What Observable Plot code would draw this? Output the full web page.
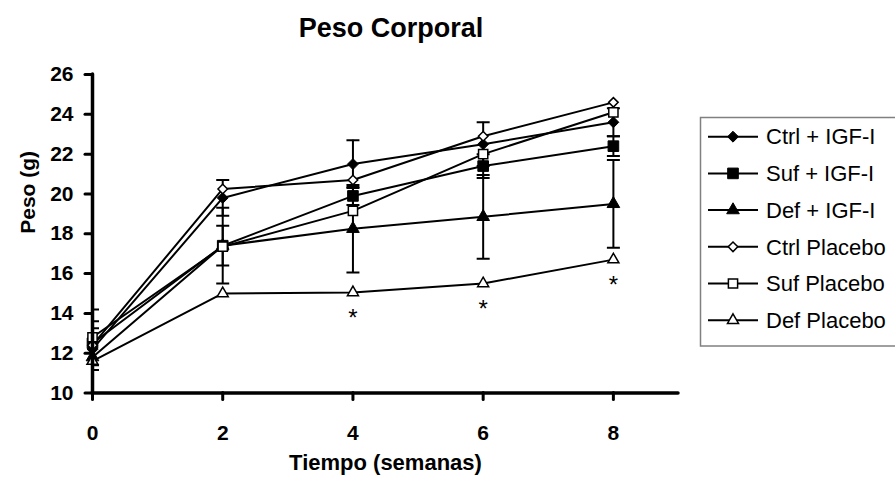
<!DOCTYPE html>
<html><head><meta charset="utf-8">
<script src="https://cdn.jsdelivr.net/npm/d3@7"></script>
<script src="https://cdn.jsdelivr.net/npm/@observablehq/plot@0.6"></script>
<style>
body{margin:0;background:#fff;font-family:"Liberation Sans",Arial,sans-serif;color:#000;}
#wrap{position:relative;width:895px;height:481px;overflow:hidden;background:#fff;}
#wrap > svg{position:absolute;left:0;top:0;}
#title{position:absolute;left:0;width:782px;top:15px;text-align:center;font-weight:bold;font-size:27px;line-height:1;}
</style></head><body>
<div id="wrap"><div id="title">Peso Corporal</div></div>
<script>
// ---- data ----
const weeks = [0, 2, 4, 6, 8];
const yTicks = [10, 12, 14, 16, 18, 20, 22, 24, 26];
const xTicks = [0, 2, 4, 6, 8];
const seriesNames = ["Ctrl + IGF-I", "Suf + IGF-I", "Def + IGF-I", "Ctrl Placebo", "Suf Placebo", "Def Placebo"];
const ctrlIGF     = [12.2, 19.8, 21.5, 22.5, 23.6];
const sufIGF      = [12.5, 17.4, 19.9, 21.4, 22.4];
const defIGF      = [11.8, 17.4, 18.25, 18.85, 19.5];
const ctrlPlacebo = [12.4, 20.25, 20.7, 22.9, 24.6];
const sufPlacebo  = [12.8, 17.35, 19.15, 22.0, 24.1];
const defPlacebo  = [11.6, 15.0, 15.05, 15.5, 16.7];
// error bars (± SD) for IGF-I groups
const ctrlIGFErr = [1.05, 0.9, 1.2, 1.1, 0.7];
const sufIGFErr  = [1.1, 1.0, 0.45, 0.6, 0.5];
const defIGFErr  = [2.4, 1.9, 2.2, 2.1, 2.2];
// significance marks (asterisks) on Def Placebo
const starWeeks = [4, 6, 8];

// ---- styles ----
const styleOf = {
  "Ctrl + IGF-I": {symbol: "diamond2", fill: "#000", r: 4.9, sw: 1},
  "Suf + IGF-I":  {symbol: "square",   fill: "#000", r: 6.0, sw: 1},
  "Def + IGF-I":  {symbol: "triangle", fill: "#000", r: 4.7, sw: 1},
  "Ctrl Placebo": {symbol: "diamond2", fill: "#fff", r: 4.3, sw: 1.5},
  "Suf Placebo":  {symbol: "square",   fill: "#fff", r: 5.2, sw: 1.5},
  "Def Placebo":  {symbol: "triangle", fill: "#fff", r: 4.1, sw: 1.5}
};

const values = [ctrlIGF, sufIGF, defIGF, ctrlPlacebo, sufPlacebo, defPlacebo];
const rows = seriesNames.flatMap((s, i) => weeks.map((w, j) => ({series: s, week: w, value: values[i][j]})));
const errs = [[ctrlIGF, ctrlIGFErr], [sufIGF, sufIGFErr], [defIGF, defIGFErr]];
const errRows = errs.flatMap(([v, e]) => weeks.map((w, j) => ({week: w, lo: v[j] - e[j], hi: v[j] + e[j]})));
const capRows = errRows.flatMap(d => [{week: d.week, v: d.lo}, {week: d.week, v: d.hi}]);
const starRows = starWeeks.map(w => ({week: w, value: defPlacebo[weeks.indexOf(w)]}));

const capSymbol = {draw(ctx, size) { const w = Math.sqrt(size / Math.PI); ctx.moveTo(-w, 0); ctx.lineTo(w, 0); }};

const font = '"Liberation Sans", Arial, sans-serif';

const chart = Plot.plot({
  width: 895, height: 481,
  marginLeft: 92, marginRight: 217, marginTop: 74, marginBottom: 88.5,
  x: {domain: [0, 9], axis: null},
  y: {domain: [10, 26], axis: null},
  style: {fontFamily: font, color: "#000", background: "transparent", overflow: "visible"},
  marks: [
    Plot.line(rows, {x: "week", y: "value", z: "series", stroke: "#000", strokeWidth: 2}),
    Plot.ruleX(errRows, {x: "week", y1: "lo", y2: "hi", stroke: "#000", strokeWidth: 2, clip: true}),
    Plot.dot(capRows, {x: "week", y: "v", symbol: capSymbol, r: 6.5, fill: "none", stroke: "#000", strokeWidth: 2, clip: true}),
    ...seriesNames.map(s => Plot.dot(rows.filter(d => d.series === s), {
      x: "week", y: "value", symbol: styleOf[s].symbol, r: styleOf[s].r,
      fill: styleOf[s].fill, stroke: "#000", strokeWidth: styleOf[s].sw
    })),
    Plot.text(starRows, {x: "week", y: "value", text: () => "*", dy: 26, fontSize: 24, fill: "#000"}),
    Plot.ruleX([0], {stroke: "#000", strokeWidth: 3.5, strokeLinecap: "round"}),
    Plot.ruleY([10], {stroke: "#000", strokeWidth: 3.5, strokeLinecap: "round"}),
    Plot.axisY({ticks: yTicks, tickSize: 7, tickPadding: 12, fontSize: 21, fontWeight: "bold", strokeWidth: 3, strokeLinecap: "round", label: null, tickFormat: d => String(d)}),
    Plot.axisX({ticks: xTicks, tickSize: 7, tickPadding: 25, fontSize: 21, fontWeight: "bold", strokeWidth: 3, strokeLinecap: "round", label: null, tickFormat: d => String(d)}),
    Plot.text(["Peso (g)"], {frameAnchor: "left", dx: -64, rotate: -90, fontSize: 21, fontWeight: "bold", fill: "#000"}),
    Plot.text(["Tiempo (semanas)"], {frameAnchor: "bottom", dy: 77, fontSize: 22, fontWeight: "bold", fill: "#000"})
  ]
});
const wrap = document.getElementById("wrap");
wrap.appendChild(chart);

// ---- legend ----
const lg = d3.create("svg").attr("width", 895).attr("height", 481)
  .style("position", "absolute").style("left", "0px").style("top", "0px");
lg.append("rect").attr("x", 700.5).attr("y", 117.5).attr("width", 240).attr("height", 228.5)
  .attr("fill", "#fff").attr("stroke", "#808080").attr("stroke-width", 1.5);
const symMap = {diamond2: d3.symbolDiamond2, square: d3.symbolSquare, triangle: d3.symbolTriangle};
seriesNames.forEach((s, i) => {
  const y = 136.7 + i * 36.7;
  const st = styleOf[s];
  const g = lg.append("g");
  g.append("line").attr("x1", 708).attr("x2", 758).attr("y1", y).attr("y2", y).attr("stroke", "#000").attr("stroke-width", 2);
  g.append("path").attr("d", d3.symbol(symMap[st.symbol], Math.PI * st.r * st.r)())
    .attr("transform", `translate(733,${y})`).attr("fill", st.fill).attr("stroke", "#000").attr("stroke-width", st.sw);
  g.append("text").attr("x", 766).attr("y", y).attr("dy", "0.35em").attr("font-size", 22)
    .attr("font-family", font).attr("fill", "#000").text(s);
});
wrap.appendChild(lg.node());
</script>
</body></html>
